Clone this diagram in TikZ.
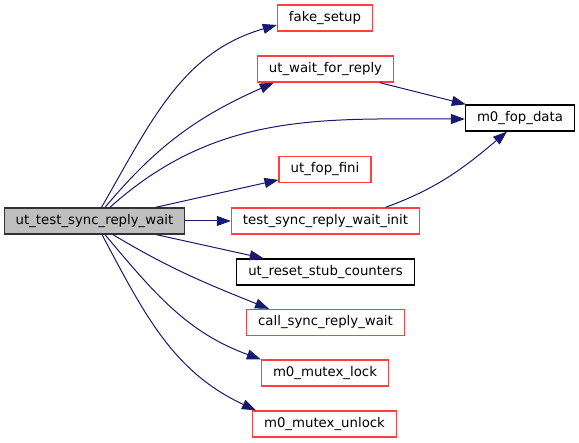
\documentclass[tikz,border=0pt]{standalone}
\usepackage{fontspec}
\setmainfont{DejaVu Sans}
\usetikzlibrary{arrows.meta,positioning}
\definecolor{linkred}{RGB}{255,64,64}
\definecolor{edgeblue}{RGB}{25,25,112}
\definecolor{curgray}{RGB}{191,191,191}
\newcommand{\doxfont}{\fontsize{13.3}{15}\selectfont}
\tikzset{
    fn/.style={draw=linkred,line width=1.3pt,minimum height=26pt,inner xsep=11.5pt,inner ysep=0pt,font=\doxfont},
    extfn/.style={fn,draw=black},
    curfn/.style={fn,draw=black!80,fill=curgray},
    call/.style={-{Triangle[length=14pt,width=10pt]},draw=edgeblue,line width=1pt}
}
\begin{document}
\begin{tikzpicture}[x=1pt,y=1pt]
    \useasboundingbox (0,0) rectangle (579,-443);
    % caller
    \node[curfn] (main) at (94.5,-221) {ut\_test\_sync\_reply\_wait};

    % callees
    \node[fn] (fake) at (325,-18) {fake\_setup};
    \node[fn] (wait) at (325.5,-69) {ut\_wait\_for\_reply};
    \node[extfn] (fop) at (520,-118) {m0\_fop\_data};
    \node[fn] (fini) at (325,-169.5) {ut\_fop\_fini};
    \node[fn] (init) at (325.5,-221) {test\_sync\_reply\_wait\_init};
    \node[extfn] (reset) at (325.5,-272) {ut\_reset\_stub\_counters};
    \node[fn] (csync) at (325.5,-322.5) {call\_sync\_reply\_wait};
    \node[fn] (lock) at (325,-373) {m0\_mutex\_lock};
    \node[fn] (unlock) at (324.5,-424) {m0\_mutex\_unlock};

    % calls
    \draw[call] ([xshift=7]main.north) to[out=60,in=-164] ([yshift=-7]fake.west);
    \draw[call] ([xshift=10.5]main.north) to[out=50,in=-156] ([xshift=17]wait.south west);
    \draw[call] ([xshift=15.5]main.north) to[out=42,in=180] ([yshift=-1]fop.west);
    \draw[call] (main) -- (fini);
    \draw[call] (main) -- (init);
    \draw[call] (main) -- (reset);
    \draw[call] ([xshift=18.5]main.south) to[out=-31,in=158] ([xshift=23]csync.north west);
    \draw[call] ([xshift=10.5]main.south) to[out=-50,in=160] (lock.north west);
    \draw[call] ([xshift=7.5]main.south) to[out=-62,in=155] ([xshift=4]unlock.north west);
    \draw[call] (wait) -- (fop);
    \draw[call] ([xshift=60]init.north) to[out=20,in=-140] ([xshift=-13]fop.south);
\end{tikzpicture}
\end{document}
